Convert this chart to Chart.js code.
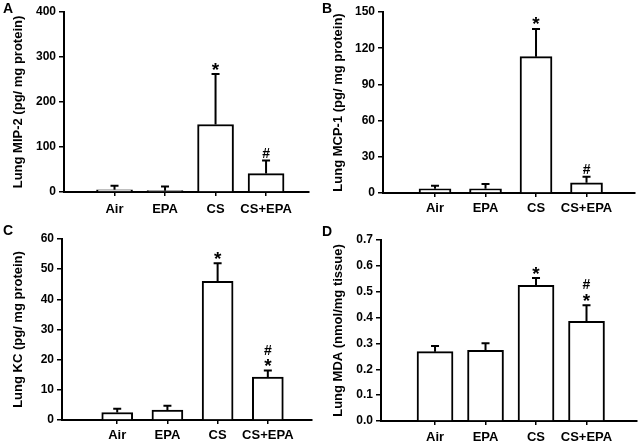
<!DOCTYPE html>
<html><head><meta charset="utf-8">
<script src="https://cdn.jsdelivr.net/npm/chart.js@4.4.0/dist/chart.umd.min.js"></script>
<style>
html,body{margin:0;padding:0;background:#fff;}
#wrap{position:relative;width:640px;height:446px;overflow:hidden;background:#fff;}
.panel{position:absolute;width:320px;height:223px;}
.letter{position:absolute;font:bold 14px/14px 'Liberation Sans',Arial,sans-serif;color:#000;}
</style></head><body>
<div id="wrap">
  <div class="panel" style="left:0;top:0"><canvas id="cA"></canvas></div>
  <div class="panel" style="left:320px;top:0"><canvas id="cB"></canvas></div>
  <div class="panel" style="left:0;top:223px"><canvas id="cC"></canvas></div>
  <div class="panel" style="left:320px;top:223px"><canvas id="cD"></canvas></div>
  <div class="letter" style="left:3px;top:1px">A</div>
  <div class="letter" style="left:322px;top:1px">B</div>
  <div class="letter" style="left:3px;top:223px">C</div>
  <div class="letter" style="left:322px;top:224px">D</div>
</div>
<script>
// ---- data ----
const categories = ['Air', 'EPA', 'CS', 'CS+EPA'];

const mip2Values = [5, 3, 150, 41];
const mip2Errors = [9, 9, 112, 29];
const mip2Marks  = [[], [], ['*'], ['#']];
const mip2Ticks  = [0, 100, 200, 300, 400];

const mcp1Values = [3.5, 3.5, 113, 8.5];
const mcp1Errors = [2.5, 4, 23, 5];
const mcp1Marks  = [[], [], ['*'], ['#']];
const mcp1Ticks  = [0, 30, 60, 90, 120, 150];

const kcValues = [2.5, 3.3, 46, 14.2];
const kcErrors = [1.2, 1.4, 6, 2.2];
const kcMarks  = [[], [], ['*'], ['*', '#']];
const kcTicks  = [0, 10, 20, 30, 40, 50, 60];

const mdaValues = [0.268, 0.273, 0.525, 0.385];
const mdaErrors = [0.022, 0.028, 0.028, 0.063];
const mdaMarks  = [[], [], ['*'], ['*', '#']];
const mdaTicks  = [0, 0.1, 0.2, 0.3, 0.4, 0.5, 0.6, 0.7];

// ---- rendering ----
const FONT = "'Liberation Sans', Arial, sans-serif";
const W = 320, H = 223;

const errorPlugin = {
  id: 'errorBars',
  afterDatasetsDraw(chart) {
    const ctx = chart.ctx, ys = chart.scales.y;
    chart.data.datasets.forEach((ds, di) => {
      const meta = chart.getDatasetMeta(di);
      meta.data.forEach((bar, i) => {
        const v = ds.data[i].y, e = ds.errors[i];
        const yTop = ys.getPixelForValue(v + e);
        ctx.save();
        ctx.strokeStyle = '#000';
        ctx.lineWidth = 2;
        ctx.beginPath();
        ctx.moveTo(bar.x, bar.y);
        ctx.lineTo(bar.x, yTop);
        ctx.moveTo(bar.x - 4, yTop);
        ctx.lineTo(bar.x + 4, yTop);
        ctx.stroke();
        ctx.fillStyle = '#000';
        ctx.textAlign = 'center';
        ctx.textBaseline = 'alphabetic';
        let y = yTop - 8;
        ds.marks[i].forEach(m => {
          if (m === '*') {
            ctx.font = 'bold 19px ' + FONT;
            ctx.fillText(m, bar.x, y + 9.5);
          } else {
            ctx.font = 'bold 14px ' + FONT;
            ctx.fillText(m, bar.x, y + 5);
          }
          y -= 13;
        });
        ctx.restore();
      });
    });
  }
};

function makeChart(id, cfg) {
  new Chart(document.getElementById(id), {
    type: 'bar',
    data: {
      datasets: [{
        data: categories.map((c, i) => ({ x: i + 1, y: cfg.values[i] })),
        backgroundColor: '#fff',
        borderColor: '#000',
        borderWidth: 2,
        barThickness: cfg.barWidth,
        errors: cfg.errors,
        marks: cfg.marks
      }]
    },
    options: {
      responsive: true,
      maintainAspectRatio: false,
      animation: false,
      devicePixelRatio: 1,
      layout: { padding: { left: 0, top: cfg.top, right: W - cfg.right, bottom: 0 } },
      plugins: { legend: { display: false }, tooltip: { enabled: false } },
      scales: {
        x: {
          type: 'linear',
          offset: false,
          min: cfg.xMin,
          max: cfg.xMax,
          afterBuildTicks: s => { s.ticks = categories.map((c, i) => ({ value: i + 1 })); },
          afterFit: s => { s.height = H - cfg.bottom; },
          grid: { display: true, drawOnChartArea: false, drawTicks: true, tickLength: 4, color: '#000', lineWidth: 1.5, offset: false },
          border: { display: true, color: '#000', width: 2 },
          ticks: {
            autoSkip: false, maxRotation: 0, minRotation: 0, padding: cfg.labelGap, color: '#000',
            font: { family: FONT, size: 13, weight: 'bold' },
            callback: v => categories[v - 1] ?? ''
          }
        },
        y: {
          min: cfg.ticks[0],
          max: cfg.ticks[cfg.ticks.length - 1],
          afterBuildTicks: s => { s.ticks = cfg.ticks.map(v => ({ value: v })); },
          afterFit: s => { s.width = cfg.axisLeft; },
          grid: { display: true, drawOnChartArea: false, drawTicks: true, tickLength: 5, color: '#000', lineWidth: 1.5 },
          border: { display: true, color: '#000', width: 2 },
          ticks: {
            padding: 3, color: '#000',
            font: { family: FONT, size: 12, weight: 'bold' },
            callback: v => cfg.decimals ? Number(v).toFixed(cfg.decimals) : String(v)
          },
          title: {
            display: true, text: cfg.title, color: '#000',
            font: { family: FONT, size: 13, weight: 'bold' },
            padding: { top: 11, bottom: 0 }
          }
        }
      }
    },
    plugins: [errorPlugin]
  });
}

makeChart('cA', { values: mip2Values, errors: mip2Errors, marks: mip2Marks, ticks: mip2Ticks,
  title: 'Lung MIP-2 (pg/ mg protein)', axisLeft: 64, top: 12, bottom: 192, right: 309,
  xMin: 0, xMax: 4.85, barWidth: 36, labelGap: 6 });
makeChart('cB', { values: mcp1Values, errors: mcp1Errors, marks: mcp1Marks, ticks: mcp1Ticks,
  title: 'Lung MCP-1 (pg/ mg protein)', axisLeft: 63, top: 12, bottom: 193, right: 315,
  xMin: -0.03, xMax: 4.96, barWidth: 32, labelGap: 4 });
makeChart('cC', { values: kcValues, errors: kcErrors, marks: kcMarks, ticks: kcTicks,
  title: 'Lung KC (pg/ mg protein)', axisLeft: 62, top: 16, bottom: 197, right: 312,
  xMin: -0.1, xMax: 4.88, barWidth: 31, labelGap: 4 });
makeChart('cD', { values: mdaValues, errors: mdaErrors, marks: mdaMarks, ticks: mdaTicks, decimals: 1,
  title: 'Lung MDA (nmol/mg tissue)', axisLeft: 61, top: 17, bottom: 198, right: 317,
  xMin: -0.07, xMax: 5.0, barWidth: 36, labelGap: 5 });
</script>
</body></html>
